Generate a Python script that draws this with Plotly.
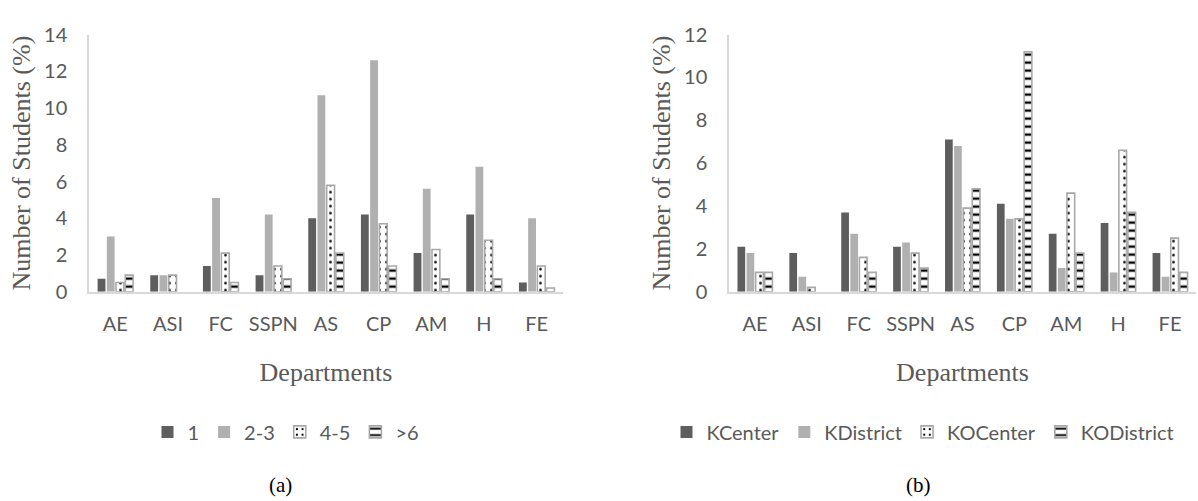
import plotly.graph_objects as go

# Departments shared by both panels
departments = ["AE", "ASI", "FC", "SSPN", "AS", "CP", "AM", "H", "FE"]

# Panel (a): share of students by group size
series_a_names = ["1", "2-3", "4-5", ">6"]
a_1 = [0.7, 0.9, 1.4, 0.9, 4.0, 4.2, 2.1, 4.2, 0.5]
a_2_3 = [3.0, 0.9, 5.1, 4.2, 10.7, 12.6, 5.6, 6.8, 4.0]
a_4_5 = [0.5, 0.9, 2.1, 1.4, 5.8, 3.7, 2.3, 2.8, 1.4]
a_gt6 = [0.9, 0.0, 0.5, 0.7, 2.1, 1.4, 0.7, 0.7, 0.2]

# Panel (b): share of students by location type
series_b_names = ["KCenter", "KDistrict", "KOCenter", "KODistrict"]
b_kcenter = [2.1, 1.8, 3.7, 2.1, 7.1, 4.1, 2.7, 3.2, 1.8]
b_kdistrict = [1.8, 0.7, 2.7, 2.3, 6.8, 3.4, 1.1, 0.9, 0.7]
b_kocenter = [0.9, 0.2, 1.6, 1.8, 3.9, 3.4, 4.6, 6.6, 2.5]
b_kodistrict = [0.9, 0.0, 0.9, 1.1, 4.8, 11.2, 1.8, 3.7, 0.9]

y_ticks_a = [0, 2, 4, 6, 8, 10, 12, 14]
y_ticks_b = [0, 2, 4, 6, 8, 10, 12]

DARK = "#5e5e5e"
LIGHT = "#b0b0b0"
EDGE = "#a8a8a8"
TEXT = "#595959"
AXIS = "#d9d9d9"
SANS = "Lato, 'Liberation Sans', sans-serif"
SERIF = "'Liberation Serif', 'DejaVu Serif', serif"


def marker_style(idx, vals):
    """Solid fills for the first two series, outlined patterns for the rest.
    Empty (zero) bars get no outline so nothing is drawn for them."""
    if idx == 0:
        return dict(color=DARK, line=dict(width=0))
    if idx == 1:
        return dict(color=LIGHT, line=dict(width=0))
    shape = "." if idx == 2 else "-"
    size, solidity = (7, 0.12) if idx == 2 else (8, 0.3)
    return dict(
        color="white",
        line=dict(color=EDGE, width=[0 if v == 0 else 1.6 for v in vals]),
        pattern=dict(shape=shape, fgcolor="black", bgcolor="white",
                     size=size, solidity=solidity, fillmode="replace"),
    )


fig = go.Figure()

for i, (name, vals) in enumerate(zip(series_a_names, [a_1, a_2_3, a_4_5, a_gt6])):
    fig.add_trace(go.Bar(x=departments, y=vals, name=name,
                         marker=marker_style(i, vals),
                         xaxis="x", yaxis="y", legend="legend"))

for i, (name, vals) in enumerate(zip(series_b_names,
                                     [b_kcenter, b_kdistrict, b_kocenter, b_kodistrict])):
    fig.add_trace(go.Bar(x=departments, y=vals, name=name,
                         marker=marker_style(i, vals),
                         xaxis="x2", yaxis="y2", legend="legend2"))

W, H = 1198, 501
y_dom = [1 - 292.7 / H, 1 - 22.7 / H]

xaxis_common = dict(
    showline=True, linecolor=AXIS, linewidth=1.5, showgrid=False,
    ticks="", tickfont=dict(family=SANS, size=20, color=TEXT),
    ticklabelstandoff=14,
    title=dict(text="Departments", font=dict(family=SERIF, size=26, color=TEXT),
               standoff=28),
)
yaxis_common = dict(
    showline=True, linecolor=AXIS, linewidth=1.5, showgrid=False,
    zeroline=False, ticks="", tickfont=dict(family=SANS, size=20, color=TEXT),
    ticklabelstandoff=16,
    title=dict(text="Number of Students (%)",
               font=dict(family=SERIF, size=26, color=TEXT), standoff=6),
)

legend_common = dict(
    orientation="h", xanchor="center", yanchor="middle",
    font=dict(family=SANS, size=20, color=TEXT),
    bgcolor="rgba(0,0,0,0)", itemwidth=30, tracegroupgap=0,
)

fig.update_layout(
    width=W, height=H,
    margin=dict(l=0, r=0, t=0, b=0),
    paper_bgcolor="white", plot_bgcolor="white",
    barmode="group", bargap=0.3, bargroupgap=0.15,
    xaxis=dict(domain=[89 / W, 563 / W], anchor="y", **xaxis_common),
    yaxis=dict(domain=y_dom, anchor="x", range=[0, 14], tickvals=y_ticks_a,
               **yaxis_common),
    xaxis2=dict(domain=[729 / W, 1196 / W], anchor="y2", **xaxis_common),
    yaxis2=dict(domain=y_dom, anchor="x2", range=[0, 12], tickvals=y_ticks_b,
                **yaxis_common),
    legend=dict(x=286 / W, y=1 - 440 / H, **legend_common),
    legend2=dict(x=923 / W, y=1 - 440 / H, **legend_common),
    annotations=[
        dict(text="(a)", x=280 / W, y=1 - 496 / H, xref="paper", yref="paper",
             xanchor="center", yanchor="middle", showarrow=False,
             font=dict(family=SERIF, size=21, color="black")),
        dict(text="(b)", x=918 / W, y=1 - 496 / H, xref="paper", yref="paper",
             xanchor="center", yanchor="middle", showarrow=False,
             font=dict(family=SERIF, size=21, color="black")),
    ],
    showlegend=True,
)

fig.write_html("out.html")
